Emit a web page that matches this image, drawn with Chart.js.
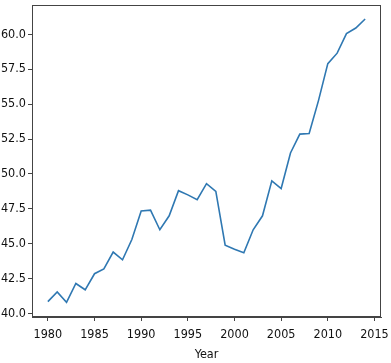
<!DOCTYPE html>
<html>
<head>
<meta charset="utf-8">
<script src="https://cdn.jsdelivr.net/npm/chart.js@4/dist/chart.umd.min.js"></script>
<style>
  html, body { margin: 0; padding: 0; background: #fff; }
  #wrap { width: 391px; height: 363px; }
</style>
</head>
<body>
<div id="wrap"><canvas id="chart"></canvas></div>
<script>
// values
const years = [1980, 1981, 1982, 1983, 1984, 1985, 1986, 1987, 1988, 1989,
  1990, 1991, 1992, 1993, 1994, 1995, 1996, 1997, 1998, 1999,
  2000, 2001, 2002, 2003, 2004, 2005, 2006, 2007, 2008, 2009,
  2010, 2011, 2012, 2013, 2014];
const values = [40.85, 41.55, 40.8, 42.15, 41.7, 42.85, 43.2, 44.4, 43.85, 45.3,
  47.35, 47.4, 46.0, 47.0, 48.8, 48.5, 48.15, 49.3, 48.75, 44.9,
  44.6, 44.35, 46.0, 47.0, 49.5, 48.95, 51.5, 52.85, 52.9, 55.25,
  57.9, 58.65, 60.05, 60.45, 61.1];
const xTicks = [1980, 1985, 1990, 1995, 2000, 2005, 2010, 2015];
const yTicks = [40.0, 42.5, 45.0, 47.5, 50.0, 52.5, 55.0, 57.5, 60.0];

const tickFont = { family: "'DejaVu Sans Condensed', 'DejaVu Sans', sans-serif", size: 12.5 };

// draws the top and right spines like matplotlib
const frame = {
  id: 'frame',
  afterDraw(chart) {
    const { ctx, chartArea: a } = chart;
    ctx.save();
    ctx.strokeStyle = '#444';
    ctx.lineWidth = 1;
    ctx.strokeRect(a.left + 0.5, a.top + 0.5, a.right - a.left - 1, a.bottom - a.top - 1);
    ctx.restore();
  }
};

new Chart(document.getElementById('chart'), {
  type: 'line',
  data: {
    datasets: [{
      data: years.map((y, i) => ({ x: y, y: values[i] })),
      borderColor: '#2f78b2',
      borderWidth: 1.6,
      pointRadius: 0,
      tension: 0,
      fill: false,
    }],
  },
  options: {
    responsive: true,
    maintainAspectRatio: false,
    animation: false,
    layout: { padding: { top: 5, right: 10, left: 0, bottom: 0 } },
    plugins: { legend: { display: false }, tooltip: { enabled: false } },
    scales: {
      x: {
        type: 'linear',
        min: 1978.3,
        max: 2015.7,
        afterBuildTicks: (s) => { s.ticks = xTicks.map(v => ({ value: v })); },
        afterFit: (s) => { s.height = 46; s.paddingLeft = 0; s.paddingRight = 0; },
        grid: { drawOnChartArea: false, drawTicks: true, tickLength: 4, tickColor: '#444' },
        border: { color: '#444', width: 1 },
        ticks: { color: '#111', font: tickFont, padding: 6, maxRotation: 0, callback: v => String(v) },
        title: { display: true, text: 'Year', color: '#111', font: tickFont, padding: { top: 2, bottom: 1 } },
      },
      y: {
        min: 39.75,
        max: 62.1,
        afterBuildTicks: (s) => { s.ticks = yTicks.map(v => ({ value: v })); },
        afterFit: (s) => { s.width = 32; s.paddingTop = 0; s.paddingBottom = 0; },
        grid: { drawOnChartArea: false, drawTicks: true, tickLength: 4, tickColor: '#444' },
        border: { color: '#444', width: 1 },
        ticks: { color: '#111', font: tickFont, padding: 2, callback: v => v.toFixed(1) },
      },
    },
  },
  plugins: [frame],
});
</script>
</body>
</html>
